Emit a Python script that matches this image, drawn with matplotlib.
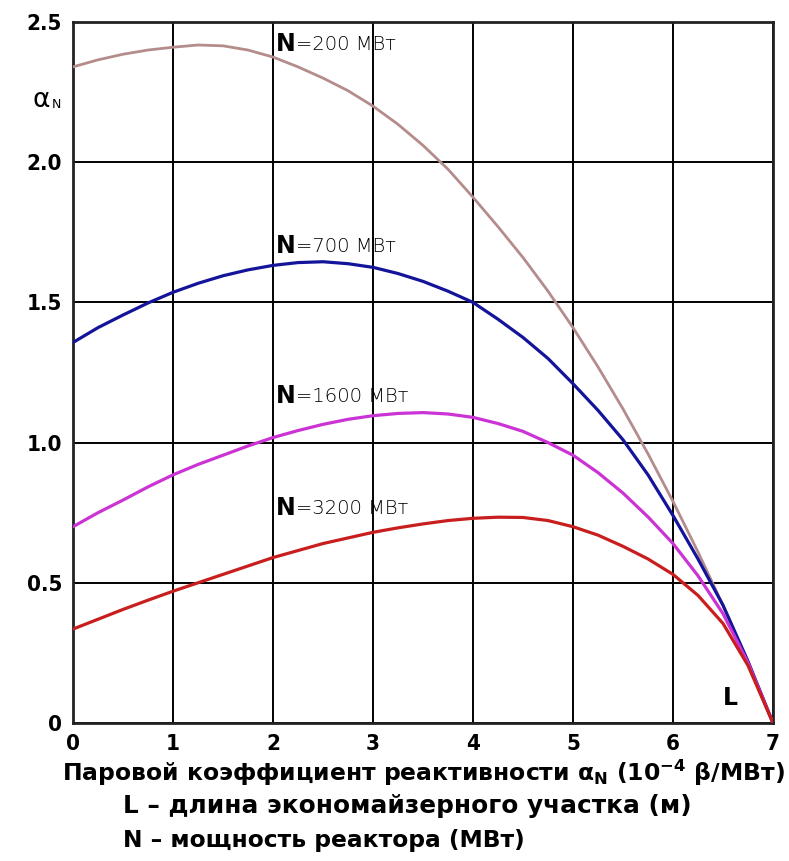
import matplotlib
matplotlib.use("Agg")
import matplotlib.pyplot as plt

# ---- data ----
x_vals = [0, 0.25, 0.5, 0.75, 1, 1.25, 1.5, 1.75, 2, 2.25, 2.5, 2.75, 3, 3.25, 3.5,
          3.75, 4, 4.25, 4.5, 4.75, 5, 5.25, 5.5, 5.75, 6, 6.25, 6.5, 6.75, 7]

y_200 = [2.34, 2.365, 2.385, 2.40, 2.41, 2.418, 2.415, 2.40, 2.375, 2.34, 2.30, 2.255, 2.20,
         2.135, 2.06, 1.975, 1.875, 1.77, 1.66, 1.54, 1.41, 1.27, 1.12, 0.96, 0.79, 0.61,
         0.42, 0.215, 0.0]
y_700 = [1.357, 1.41, 1.455, 1.498, 1.536, 1.568, 1.595, 1.616, 1.632, 1.642, 1.645, 1.638,
         1.625, 1.603, 1.575, 1.54, 1.50, 1.44, 1.375, 1.30, 1.21, 1.115, 1.01, 0.885, 0.74,
         0.585, 0.42, 0.22, 0.0]
y_1600 = [0.70, 0.75, 0.795, 0.842, 0.885, 0.922, 0.955, 0.988, 1.018, 1.043, 1.065, 1.083,
          1.096, 1.104, 1.107, 1.102, 1.09, 1.068, 1.04, 1.0, 0.955, 0.893, 0.82, 0.735, 0.64,
          0.525, 0.39, 0.215, 0.0]
y_3200 = [0.335, 0.37, 0.405, 0.438, 0.47, 0.50, 0.53, 0.56, 0.59, 0.615, 0.64, 0.66, 0.68,
          0.696, 0.71, 0.722, 0.73, 0.734, 0.733, 0.722, 0.70, 0.67, 0.63, 0.585, 0.53, 0.455,
          0.355, 0.205, 0.0]

series_labels = ["200", "700", "1600", "3200"]
label_y = [2.42, 1.70, 1.165, 0.765]

x_ticks = [0, 1, 2, 3, 4, 5, 6, 7]
x_tick_labels = ["0", "1", "2", "3", "4", "5", "6", "7"]
y_ticks = [0, 0.5, 1.0, 1.5, 2.0, 2.5]
y_tick_labels = ["0", "0.5", "1.0", "1.5", "2.0", "2.5"]

colors = ["#b48c8c", "#14149a", "#cc33d4", "#c81e1e"]
widths = [2.0, 2.3, 2.3, 2.3]

FAM = ["DejaVu Sans"]
plt.rcParams["mathtext.fontset"] = "dejavusans"

fig = plt.figure(figsize=(7.89, 8.61), dpi=100)
ax = fig.add_axes([73/789, 138/861, 700/789, 701/861])

for yv, c, w in zip([y_200, y_700, y_1600, y_3200], colors, widths):
    ax.plot(x_vals, yv, color=c, lw=w, zorder=3, solid_capstyle="round",
            solid_joinstyle="round")

ax.set_xlim(0, 7)
ax.set_ylim(0, 2.5)
ax.set_xticks(x_ticks)
ax.set_xticklabels(x_tick_labels)
ax.set_yticks(y_ticks)
ax.set_yticklabels(y_tick_labels)
ax.tick_params(length=0, pad=8, labelsize=16)
for lab in ax.get_xticklabels() + ax.get_yticklabels():
    lab.set_fontfamily(FAM)
    lab.set_fontweight("bold")
    lab.set_fontstretch("condensed")
ax.grid(True, color="black", lw=1.4, zorder=1)
for s in ax.spines.values():
    s.set_linewidth(2)
    s.set_color("#222222")

for lbl, yy in zip(series_labels, label_y):
    t = ax.text(2.03, yy, "N", fontsize=17, fontweight="bold", va="center", ha="left",
                family=FAM, zorder=4)
    ax.annotate("=" + lbl + " МВт", xy=(1, 0.5), xycoords=t, va="center", ha="left",
                fontsize=14, family=FAM, fontweight="light", zorder=4)

ax.text(6.5, 0.045, "L", fontsize=17, fontweight="bold", family=FAM, ha="left", va="bottom")

# y axis symbol
fig.text(33/789, 1 - 100/861, "α", fontsize=19, family=FAM, ha="left", va="center")
fig.text(52/789, 1 - 104/861, "N", fontsize=9, family=FAM, ha="left", va="center")

fig.text(62/789, 1 - 773/861,
         r"Паровой коэффициент реактивности $\mathregular{\alpha_{N}}$ (10$\mathregular{^{-4}}$ β/МВт)",
         fontsize=16.9, fontweight="bold", family=FAM, ha="left", va="center")
fig.text(123/789, 1 - 806/861, "L – длина экономайзерного участка (м)",
         fontsize=17.8, fontweight="bold", family=FAM, ha="left", va="center")
fig.text(123/789, 1 - 840/861, "N – мощность реактора (МВт)",
         fontsize=16.8, fontweight="bold", family=FAM, ha="left", va="center")

fig.savefig("out.png", dpi=100)
